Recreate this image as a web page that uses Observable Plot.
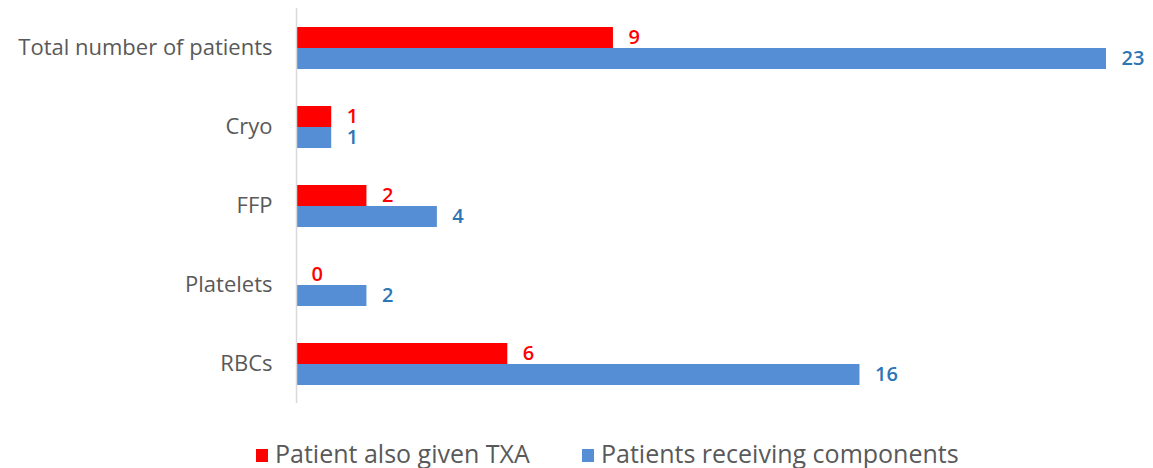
<!DOCTYPE html>
<html>
<head>
<meta charset="utf-8">
<script src="https://cdn.jsdelivr.net/npm/d3@7"></script>
<script src="https://cdn.jsdelivr.net/npm/@observablehq/plot@0.6"></script>
<style>
  html, body { margin: 0; padding: 0; background: #fff; }
  body { width: 1153px; height: 468px; overflow: hidden; font-family: "Open Sans", sans-serif; }
  #legend { position: absolute; top: 437px; left: 0; width: 1153px; height: 32px; }
  .item { position: absolute; top: 0; display: flex; align-items: center; font-size: 25px; color: #595959; height: 32px; }
  .sw { width: 12px; height: 13px; margin-right: 7px; margin-top: 4px; }
</style>
</head>
<body>
<div id="chart"></div>
<div id="legend">
  <div class="item" style="left:256px"><div class="sw" style="background:#FF0000"></div><span id="l1"></span></div>
  <div class="item" style="left:582px"><div class="sw" style="background:#558ED5"></div><span id="l2"></span></div>
</div>
<script>
const categories = ["Total number of patients", "Cryo", "FFP", "Platelets", "RBCs"];
const seriesNames = ["Patient also given TXA", "Patients receiving components"];
const txa = [9, 1, 2, 0, 6];
const components = [23, 1, 4, 2, 16];
const barColors = ["#FF0000", "#558ED5"];
const labelColors = ["#FF0000", "#2E75B6"];

const data = [];
categories.forEach((c, i) => {
  data.push({category: c, series: seriesNames[0], value: txa[i]});
  data.push({category: c, series: seriesNames[1], value: components[i]});
});

document.getElementById("l1").textContent = seriesNames[0];
document.getElementById("l2").textContent = seriesNames[1];

const chart = Plot.plot({
  width: 1153,
  height: 425,
  marginLeft: 296,
  marginRight: 47,
  marginTop: 8,
  marginBottom: 22,
  style: {fontFamily: "Open Sans, sans-serif", background: "transparent"},
  x: {domain: [0, 23], axis: null},
  y: {domain: seriesNames, paddingInner: 0, paddingOuter: 0.88, axis: null},
  fy: {domain: categories, padding: 0, label: null},
  color: {domain: seriesNames, range: barColors},
  marks: [
    Plot.axisFy({anchor: "left", tickSize: 0, tickPadding: 24, label: null, fontSize: 22, fill: "#595959"}),
    Plot.barX(data, {x: "value", y: "series", fy: "category", fill: "series"}),
    Plot.ruleX([0], {stroke: "#D9D9D9", strokeWidth: 1.5}),
    Plot.text(data, {
      x: "value", y: "series", fy: "category", text: d => String(d.value),
      fill: d => labelColors[seriesNames.indexOf(d.series)],
      textAnchor: "start", dx: 15, fontSize: 20, fontWeight: 600
    })
  ]
});
document.getElementById("chart").appendChild(chart);
</script>
</body>
</html>
